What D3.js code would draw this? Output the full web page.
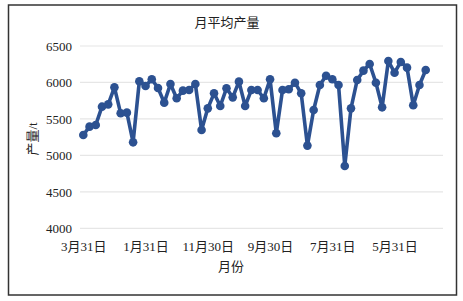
<!DOCTYPE html>
<html>
<head>
<meta charset="utf-8">
<script src="https://cdn.jsdelivr.net/npm/d3@7"></script>
<style>
	body { margin: 0; background: #fff; }
	text { font-family: "Liberation Serif", "Noto Sans CJK SC", serif; fill: #222; }
</style>
</head>
<body>
<div id="chart"></div>
<script>
// monthly average output, 56 months
const values = [
	5280, 5394, 5417, 5668, 5700, 5933, 5577, 5586, 5179, 6016,
	5952, 6043, 5924, 5723, 5979, 5783, 5888, 5897, 5979, 5348,
	5645, 5851, 5677, 5920, 5796, 6011, 5677, 5897, 5897, 5783,
	6043, 5303, 5897, 5906, 5997, 5851, 5134, 5623, 5965, 6093,
	6043, 5965, 4855, 5645, 6034, 6162, 6253, 5997, 5659, 6294,
	6134, 6281, 6203, 5687, 5965, 6171
];
const tickLabels = ['3月31日', '1月31日', '11月30日', '9月30日', '7月31日', '5月31日'];
const yTicks = [4000, 4500, 5000, 5500, 6000, 6500];

const width = 463, height = 301;
const color = '#2c5191';

const svg = d3.select('#chart')
	.append('svg')
	.attr('width', width)
	.attr('height', height);

svg.append('rect')
	.attr('x', 8.5).attr('y', 5)
	.attr('width', 448).attr('height', 290)
	.attr('fill', '#fff')
	.attr('stroke', '#333')
	.attr('stroke-width', 1.5);

const xScale = d3.scalePoint()
	.domain(d3.range(values.length))
	.range([83.3, 425.7]);

const yScale = d3.scaleLinear()
	.domain([4000, 6500])
	.range([228.3, 46]);

// gridlines
svg.append('g')
	.selectAll('line')
	.data(yTicks)
	.enter()
	.append('line')
	.attr('x1', 80).attr('x2', 443)
	.attr('y1', d => yScale(d)).attr('y2', d => yScale(d))
	.attr('stroke', '#e6e6e6')
	.attr('stroke-width', 1.2);

const yAxis = svg.append('g')
	.attr('transform', 'translate(72,0)')
	.call(d3.axisLeft(yScale).tickValues(yTicks).tickFormat(d3.format('d')).tickSize(0).tickPadding(0));
yAxis.select('.domain').remove();
yAxis.attr('font-family', null);
yAxis.selectAll('text')
	.style('font-size', '13px')
	.attr('fill', '#222');

const xAxis = svg.append('g')
	.attr('transform', 'translate(0,242)')
	.call(d3.axisBottom(xScale)
		.tickValues(d3.range(0, values.length, 10))
		.tickFormat((d, i) => tickLabels[i])
		.tickSize(0).tickPadding(0));
xAxis.select('.domain').remove();
xAxis.attr('font-family', null);
xAxis.selectAll('text')
	.style('font-size', '13px')
	.attr('fill', '#222');

const line = d3.line()
	.x((d, i) => xScale(i))
	.y(d => yScale(d));

svg.append('path')
	.datum(values)
	.attr('d', line)
	.attr('fill', 'none')
	.attr('stroke', color)
	.attr('stroke-width', 3.6)
	.attr('stroke-linejoin', 'round');

svg.append('g')
	.selectAll('circle')
	.data(values)
	.enter()
	.append('circle')
	.attr('cx', (d, i) => xScale(i))
	.attr('cy', d => yScale(d))
	.attr('r', 4.3)
	.attr('fill', color);

svg.append('text')
	.attr('x', 227).attr('y', 27)
	.attr('text-anchor', 'middle')
	.style('font-size', '13px')
	.text('月平均产量');

svg.append('text')
	.attr('x', 231).attr('y', 271)
	.attr('text-anchor', 'middle')
	.style('font-size', '13px')
	.text('月份');

svg.append('text')
	.attr('transform', 'translate(37,139) rotate(-90)')
	.attr('text-anchor', 'middle')
	.style('font-size', '13px')
	.text('产量/t');
</script>
</body>
</html>
